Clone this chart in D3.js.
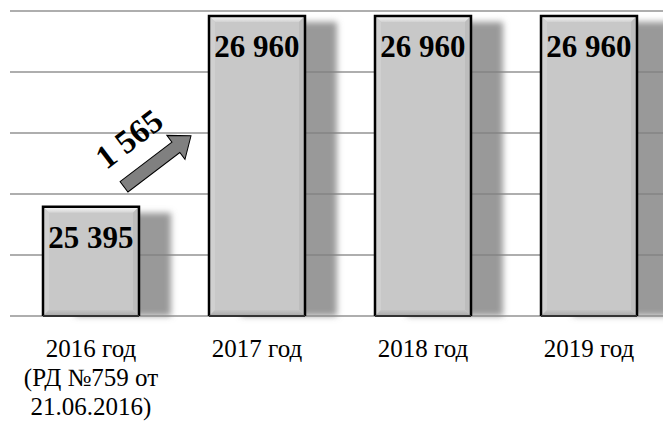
<!DOCTYPE html>
<html><head><meta charset="utf-8">
<script src="https://cdn.jsdelivr.net/npm/d3@7"></script>
<style>html,body{margin:0;padding:0;background:#fff;}svg{display:block;}
svg text{font-family:"Liberation Serif","Times New Roman",serif;}</style>
</head><body>
<div id="chart"></div>
<script>
const categories = ["2016 год\n(РД №759 от\n21.06.2016)", "2017 год", "2018 год", "2019 год"];
const values = [25395, 26960, 26960, 26960];
const valueLabels = ["25 395", "26 960", "26 960", "26 960"];
const gridTicks = [24500, 25000, 25500, 26000, 26500, 27000];

const W = 663, H = 421;
const svg = d3.select("#chart").append("svg").attr("width", W).attr("height", H);
const defs = svg.append("defs");
defs.append("filter").attr("id","blur").attr("x","-20%").attr("y","-20%").attr("width","140%").attr("height","140%")
  .append("feGaussianBlur").attr("stdDeviation", 3);
const gTop = defs.append("linearGradient").attr("id","bevTop").attr("x1",0).attr("y1",0).attr("x2",0).attr("y2",1);
gTop.append("stop").attr("offset","0%").attr("stop-color","#fafafa");
gTop.append("stop").attr("offset","100%").attr("stop-color","#d2d2d2");
const gBot = defs.append("linearGradient").attr("id","bevBot").attr("x1",0).attr("y1",0).attr("x2",0).attr("y2",1);
gBot.append("stop").attr("offset","0%").attr("stop-color","#c4c4c4");
gBot.append("stop").attr("offset","100%").attr("stop-color","#a8a8a8");

const x = d3.scaleBand().domain(categories).range([8, 672]).paddingInner(0.4217).paddingOuter(0.21085);
const y = d3.scaleLinear().domain([24500, 27000]).range([316, 11]);
const bw = x.bandwidth();

// shadows
svg.append("g").selectAll("rect").data(values).join("rect")
  .attr("x", (d,i) => x(categories[i]) + 32)
  .attr("y", d => y(d) + 6)
  .attr("width", bw)
  .attr("height", d => y(24500) - y(d) - 6)
  .attr("fill", "#999")
  .attr("filter", "url(#blur)");

// gridlines
svg.append("g").selectAll("line").data(gridTicks).join("line")
  .attr("x1", 10).attr("x2", W)
  .attr("y1", d => y(d)).attr("y2", d => y(d))
  .attr("stroke", "#808080").attr("stroke-opacity", 0.85).attr("stroke-width", 1.5);

// bars
const bars = svg.append("g").selectAll("g").data(values).join("g")
  .attr("transform", (d,i) => `translate(${x(categories[i])},${y(d)})`);
bars.append("rect").attr("width", bw).attr("height", d => y(24500) - y(d)).attr("fill", "#c8c8c8");
const bv = 6;
bars.append("path").attr("fill", "url(#bevTop)")
  .attr("d", d => `M0,0H${bw}L${bw-bv},${bv}H${bv}Z`);
bars.append("path").attr("fill", "#d0d0d0")
  .attr("d", d => { const h = y(24500) - y(d); return `M0,0L${bv},${bv}V${h-bv}L0,${h}Z`; });
bars.append("path").attr("fill", "#bdbdbd")
  .attr("d", d => { const h = y(24500) - y(d); return `M${bw},0L${bw-bv},${bv}V${h-bv}L${bw},${h}Z`; });
bars.append("path").attr("fill", "url(#bevBot)")
  .attr("d", d => { const h = y(24500) - y(d); return `M0,${h}L${bv},${h-bv}H${bw-bv}L${bw},${h}Z`; });
bars.append("path").attr("fill", "none").attr("stroke", "#000").attr("stroke-width", 2.5)
  .attr("d", d => { const h = y(24500) - y(d); return `M0,${h}V0H${bw}V${h}`; });
bars.append("line").attr("x1", 0).attr("x2", bw).attr("y1", d => y(24500) - y(d)).attr("y2", d => y(24500) - y(d))
  .attr("stroke", "#333").attr("stroke-width", 2);
bars.append("text").text((d,i) => valueLabels[i])
  .attr("x", bw/2).attr("y", 41)
  .attr("text-anchor", "middle")
  .attr("font-weight", "bold").attr("font-size", 31).attr("fill", "#000");

// category labels
svg.append("g").selectAll("text").data(categories).join("text")
  .attr("x", d => x(d) + bw/2).attr("y", 357)
  .attr("text-anchor", "middle")
  .attr("font-size", 25).attr("fill", "#000")
  .each(function(d){
    const t = d3.select(this);
    d.split("\n").forEach((ln, j) => {
      t.append("tspan").attr("x", x(d) + bw/2).attr("dy", j === 0 ? 0 : 29).text(ln);
    });
  });

// growth arrow
const diff = values[1] - values[0];
const diffLabel = d3.format(",")(diff).replace(/,/g, " ");
const ax0 = x(categories[0]) + bw - 15, ay0 = y(values[0]) - 20;
const ax1 = x(categories[1]) - 18, ay1 = y(values[0]) - 71;
const ang = Math.atan2(ay1 - ay0, ax1 - ax0) * 180 / Math.PI;
const len = Math.hypot(ax1 - ax0, ay1 - ay0);
const sw = 6.5, hw = 15, hl = 19;
const ag = svg.append("g").attr("transform", `translate(${ax0},${ay0}) rotate(${ang})`);
ag.append("path")
  .attr("d", `M0,${-sw}H${len-hl}V${-hw}L${len},0L${len-hl},${hw}V${sw}H0Z`)
  .attr("fill", "#808080").attr("stroke", "#000").attr("stroke-width", 1);
ag.append("text").text(diffLabel)
  .attr("x", 33).attr("y", -24)
  .attr("text-anchor", "middle")
  .attr("font-weight", "bold").attr("font-size", 33).attr("fill", "#000");
</script>
</body></html>
